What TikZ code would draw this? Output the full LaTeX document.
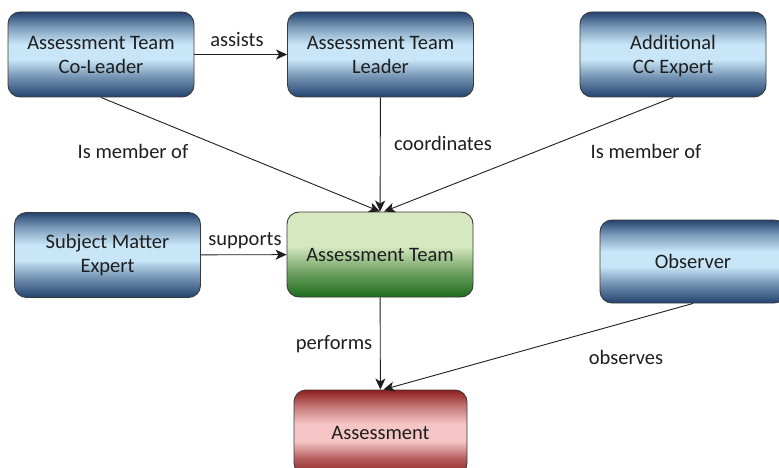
\documentclass[tikz,border=0pt]{standalone}
\usepackage{fontspec}
\setmainfont{Carlito}
\usepackage{xcolor}
\usepackage{tikz}
\usetikzlibrary{arrows.meta}
\definecolor{ink}{HTML}{1E1E1E}
\definecolor{rim}{HTML}{3A3A3A}
\definecolor{navy}{HTML}{23436F}
\definecolor{sky}{HTML}{C8E6F8}
\definecolor{leaf}{HTML}{D6E8C0}
\definecolor{forest}{HTML}{1E6B1A}
\definecolor{wine}{HTML}{8E1E1E}
\definecolor{blush}{HTML}{F6C6C6}
% vertical shadings, listed bottom to top (the box spans 25bp to 75bp)
\pgfdeclareverticalshading{roleshade}{100bp}{color(0bp)=(navy); color(25bp)=(navy);
  color(37bp)=(navy!50!sky); color(47bp)=(sky); color(56bp)=(sky);
  color(66bp)=(navy!45!sky); color(75bp)=(navy); color(100bp)=(navy)}
\pgfdeclareverticalshading{teamshade}{100bp}{color(0bp)=(forest); color(25bp)=(forest);
  color(40bp)=(forest!55!leaf); color(55bp)=(leaf); color(75bp)=(leaf); color(100bp)=(leaf)}
\pgfdeclareverticalshading{workshade}{100bp}{color(0bp)=(wine); color(25bp)=(wine);
  color(35bp)=(wine!60!blush); color(45bp)=(blush); color(55bp)=(blush);
  color(65bp)=(wine!45!blush); color(75bp)=(wine); color(100bp)=(wine)}
\tikzset{
  box/.style={draw=rim, line width=0.9pt, rounded corners=12pt, align=center,
    text=ink, minimum width=186pt, minimum height=85pt,
    font=\fontsize{20.5}{24}\selectfont},
  role/.style={box, shading=roleshade},
  team/.style={box, shading=teamshade},
  work/.style={box, shading=workshade},
  rel/.style={draw=ink, line width=0.9pt, -{Stealth[length=11pt,width=10pt,inset=3pt]}},
  lbl/.style={text=ink, font=\fontsize{20.5}{24}\selectfont},
}
\begin{document}
\begin{tikzpicture}[x=1pt,y=-1pt]
\useasboundingbox (0,0) rectangle (779,468);
\node[role] (colead) at (101,54.5) {Assessment Team\\Co-Leader};
\node[role] (lead) at (380.5,54.5) {Assessment Team\\Leader};
\node[role, text depth=0pt] (ccexp) at (673,54.5) {Additional\\CC Expert};
\node[role] (sme) at (107.5,255) {Subject Matter\\Expert};
\node[team] (ateam) at (380,254.5) {Assessment Team};
\node[role, minimum height=83pt] (obs) at (693,261.5) {Observer};
\node[work, minimum width=173pt] (assess) at (380.5,432.5) {Assessment};
% relations
\draw[rel] (colead) -- (lead);
\draw[rel] (colead.south) -- (ateam.north);
\draw[rel] (lead) -- (ateam);
\draw[rel] (ccexp.south) -- ([xshift=4pt]ateam.north);
\draw[rel] (sme) -- (ateam);
\draw[rel] (ateam) -- (assess);
\draw[rel] (obs.south) -- ([xshift=3pt]assess.north);
% labels
\node[lbl] (lassist) at (237,40) {assists};
\node[lbl] (lmem1) at (133,151) {Is member of};
\node[lbl] (lcoord) at (443,143) {coordinates};
\node[lbl] (lmem2) at (646,151) {Is member of};
\node[lbl] (lsupp) at (245,241) {supports};
\node[lbl] (lperf) at (334,344) {performs};
\node[lbl] (lobs) at (626,357) {observes};
\end{tikzpicture}
\end{document}
